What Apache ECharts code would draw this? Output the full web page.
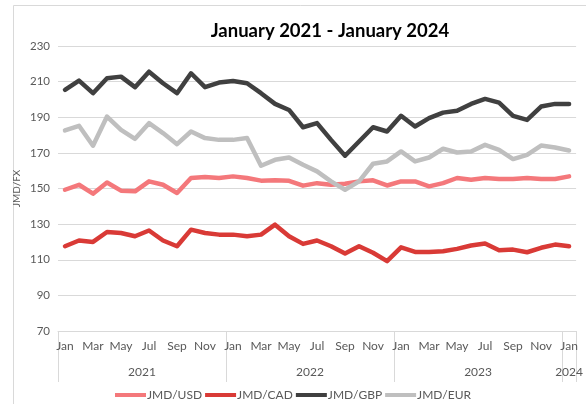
<!DOCTYPE html>
<html>
<head>
<meta charset="utf-8">
<script src="https://cdn.jsdelivr.net/npm/echarts@6/dist/echarts.min.js"></script>
<style>
html,body{margin:0;padding:0;background:#fff;overflow:hidden;}
#chart{width:586px;height:404px;}
</style>
</head>
<body>
<div id="chart"></div>
<script>
var monthNames = ['Jan','Feb','Mar','Apr','May','Jun','Jul','Aug','Sep','Oct','Nov','Dec'];
var months = [];
for (var y = 0; y < 3; y++) months = months.concat(monthNames);
months.push('Jan');

var years = ['2021','2022','2023','2024'];
var yearSpans = [12, 12, 12, 1];

var usd = [149.3,152.1,147.1,153.4,148.8,148.4,154.0,152.1,147.5,155.9,156.4,155.9,156.8,155.9,154.4,154.6,154.3,151.6,153.0,152.1,152.7,154.0,154.6,151.7,154.0,154.0,151.2,153.0,155.9,154.9,155.9,155.3,155.3,155.9,155.3,155.3,156.8];
var cad = [117.6,120.8,120.0,125.6,125.0,123.2,126.4,120.8,117.6,126.9,125.0,124.1,124.1,123.2,124.1,129.7,123.2,118.9,120.8,117.6,113.5,117.6,113.9,109.2,117.0,114.4,114.4,114.8,116.1,118.0,119.1,115.3,115.7,114.2,116.7,118.5,117.6];
var gbp = [205.4,210.6,203.5,211.9,212.8,206.9,215.6,209.1,203.5,214.7,206.9,209.5,210.4,209.1,203.5,197.5,194.1,184.4,186.7,177.3,168.4,176.4,184.4,182.0,190.8,184.8,189.5,192.6,193.6,197.5,200.3,198.2,190.8,188.5,196.0,197.5,197.5];
var eur = [182.6,185.2,174.0,190.4,182.9,177.9,186.7,181.1,174.9,182.0,178.3,177.3,177.3,178.3,162.8,166.1,167.4,163.3,159.6,154.0,149.3,154.0,163.9,165.2,170.8,165.2,167.4,172.3,170.2,170.8,174.5,171.7,166.5,168.9,174.1,173.0,171.3];

var seriesNames = ['JMD/USD','JMD/CAD','JMD/GBP','JMD/EUR'];
var seriesColors = ['#F4787B','#D93A36','#404040','#BFBFBF'];
var seriesData = [usd, cad, gbp, eur];

// half-month slots for year separators and centred year labels
var halfSlots = [];
var tickIdx = {}, labelIdx = {};
var pos = 0;
tickIdx[0] = true;
for (var k = 0; k < years.length; k++) {
  labelIdx[pos + yearSpans[k]] = years[k];
  pos += yearSpans[k] * 2;
  tickIdx[pos] = true;
}
for (var h = 0; h <= pos; h++) halfSlots.push(String(h));

var font = 'Lato, "Liberation Sans", sans-serif';
var gray = '#595959';
var lineGray = '#D9D9D9';

var chart = echarts.init(document.getElementById('chart'), null, {renderer: 'canvas'});
chart.setOption({
  animation: false,
  backgroundColor: '#fff',
  textStyle: {fontFamily: font},
  title: {
    text: 'January 2021 - January 2024',
    left: 325, top: 17, textAlign: 'center',
    textStyle: {fontFamily: font, fontSize: 18.5, fontWeight: 'bold', color: '#000'}
  },
  graphic: [{
    type: 'rect', silent: true, z: -1,
    shape: {x: 13.5, y: 5.5, width: 700, height: 500},
    style: {fill: 'none', stroke: lineGray, lineWidth: 1}
  }],
  legend: {
    bottom: -2, left: 'center',
    icon: 'rect', itemWidth: 31, itemHeight: 4, itemGap: 3,
    textStyle: {fontFamily: font, fontSize: 12, color: gray, padding: [0, 0, 0, -4]},
    data: seriesNames
  },
  grid: {left: 58, right: 8, top: 46, bottom: 73, containLabel: false},
  xAxis: [{
    type: 'category', data: months, boundaryGap: true,
    axisLine: {lineStyle: {color: lineGray}},
    axisTick: {show: false},
    axisLabel: {interval: 1, fontFamily: font, fontSize: 12, color: gray, margin: 9}
  }, {
    type: 'category', data: halfSlots, boundaryGap: false, position: 'bottom',
    axisLine: {show: false},
    axisTick: {show: true, length: 51, lineStyle: {color: lineGray},
      interval: function (i) { return !!tickIdx[i]; }},
    axisLabel: {
      interval: function (i) { return labelIdx[i] !== undefined; },
      formatter: function (v, i) { return labelIdx[i] || ''; },
      fontFamily: font, fontSize: 12, color: gray, margin: 35
    },
    splitLine: {show: false}
  }],
  yAxis: {
    type: 'value', min: 70, max: 230, interval: 20,
    name: 'JMD/FX', nameLocation: 'middle', nameGap: 36, nameRotate: 90,
    nameMoveOverlap: false,
    nameTextStyle: {fontFamily: font, fontSize: 10, color: gray},
    axisLine: {show: false}, axisTick: {show: false},
    axisLabel: {fontFamily: font, fontSize: 11.5, color: gray, margin: 8},
    splitLine: {lineStyle: {color: lineGray}}
  },
  series: seriesNames.map(function (n, i) {
    return {
      name: n, type: 'line', data: seriesData[i], xAxisIndex: 0,
      symbol: 'none', smooth: false,
      lineStyle: {width: 4.5, color: seriesColors[i], join: 'round', cap: 'round'},
      itemStyle: {color: seriesColors[i]}
    };
  })
});
</script>
</body>
</html>
